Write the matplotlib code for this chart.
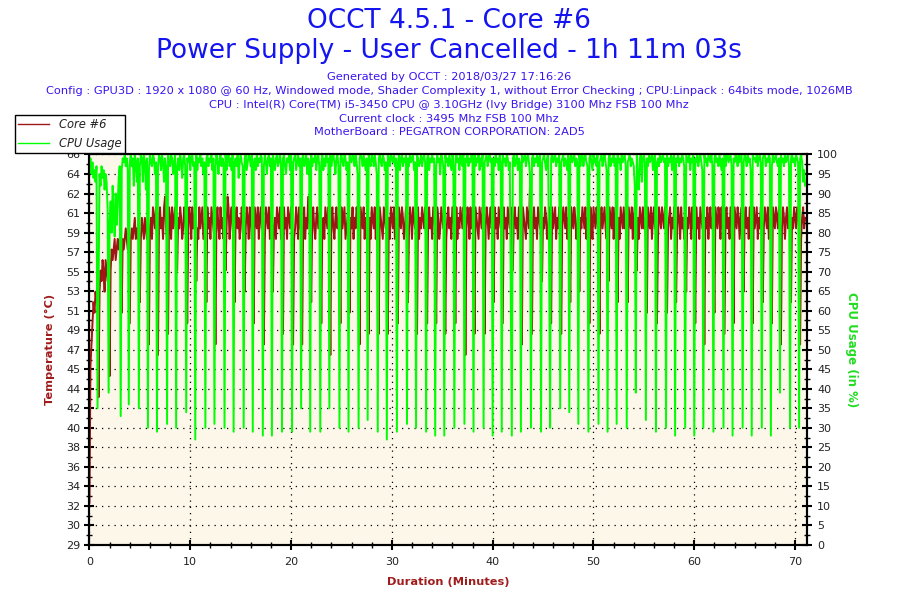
# OCCT power supply test - Core #6 temperature and CPU usage
import numpy as np
import matplotlib
matplotlib.use("Agg")
import matplotlib.pyplot as plt
from matplotlib.lines import Line2D

# one sample every 0.1 minute (one row per minute)
sample_step = 0.1

core6_temp = [
    33, 46, 48, 50, 52, 51, 53, 52, 54, 43,
    53, 55, 54, 56, 55, 53, 56, 55, 54, 57,
    45, 55, 57, 56, 57, 58, 56, 57, 58, 57,
    58, 57, 51, 58, 57, 58, 59, 58, 57, 58,
    50, 58, 59, 58, 59, 60, 58, 59, 58, 60,
    52, 58, 60, 59, 58, 60, 59, 58, 60, 48,
    59, 60, 58, 61, 60, 59, 61, 58, 47, 60,
    61, 59, 60, 58, 61, 62, 59, 58, 49, 61,
    60, 58, 61, 59, 60, 61, 58, 55, 60, 59,
    61, 60, 58, 59, 61, 60, 58, 50, 59, 61,
    60, 58, 61, 59, 60, 61, 54, 59, 58, 61,
    59, 60, 61, 58, 59, 60, 52, 61, 59, 60,
    58, 61, 60, 59, 58, 48, 60, 61, 59, 58,
    61, 59, 60, 58, 61, 55, 59, 62, 61, 58,
    60, 61, 59, 58, 52, 60, 61, 59, 60, 58,
    59, 61, 60, 58, 53, 59, 61, 60, 58, 61,
    60, 58, 59, 50, 61, 60, 59, 61, 58, 60,
    61, 59, 60, 48, 58, 61, 60, 59, 61, 58,
    60, 61, 53, 59, 60, 58, 61, 60, 59, 61,
    58, 60, 49, 61, 59, 60, 58, 61, 60, 59,
    61, 60, 48, 58, 59, 61, 60, 58, 61, 59,
    60, 48, 59, 61, 58, 60, 59, 62, 60, 58,
    52, 60, 61, 59, 58, 60, 61, 59, 60, 61,
    50, 59, 60, 58, 61, 60, 59, 61, 58, 47,
    60, 61, 59, 58, 60, 61, 59, 60, 58, 50,
    61, 59, 60, 61, 58, 59, 60, 61, 51, 60,
    59, 61, 58, 60, 59, 61, 60, 58, 48, 61,
    60, 59, 61, 58, 60, 59, 61, 49, 60, 58,
    61, 60, 59, 61, 58, 60, 59, 49, 61, 60,
    59, 58, 61, 60, 59, 61, 49, 60, 58, 61,
    60, 59, 61, 58, 60, 59, 50, 61, 60, 59,
    61, 60, 58, 59, 61, 60, 52, 59, 61, 60,
    58, 61, 60, 59, 60, 49, 61, 58, 60, 59,
    61, 60, 59, 61, 58, 50, 60, 61, 59, 60,
    58, 61, 60, 59, 50, 61, 60, 58, 59, 61,
    60, 59, 61, 49, 58, 60, 61, 59, 60, 58,
    61, 60, 59, 50, 61, 58, 60, 59, 61, 60,
    59, 61, 60, 47, 59, 61, 60, 58, 61, 59,
    60, 58, 49, 61, 60, 59, 58, 61, 60, 59,
    61, 60, 49, 59, 61, 60, 58, 60, 61, 59,
    60, 52, 61, 59, 60, 58, 61, 60, 59, 61,
    50, 61, 59, 60, 58, 61, 60, 59, 61, 58,
    55, 60, 61, 59, 60, 58, 61, 60, 59, 48,
    61, 60, 59, 58, 61, 60, 59, 63, 60, 49,
    60, 61, 59, 60, 58, 61, 60, 59, 61, 54,
    60, 59, 61, 60, 58, 59, 61, 60, 50, 61,
    59, 60, 61, 58, 60, 59, 61, 60, 49, 59,
    61, 60, 59, 61, 58, 60, 59, 52, 61, 60,
    59, 61, 60, 58, 59, 61, 53, 60, 59, 61,
    60, 59, 61, 58, 60, 59, 50, 61, 60, 58,
    61, 60, 59, 61, 60, 58, 49, 60, 61, 59,
    60, 61, 59, 58, 60, 54, 61, 60, 59, 61,
    58, 60, 61, 59, 52, 60, 58, 61, 60, 59,
    61, 59, 60, 58, 52, 61, 60, 59, 61, 58,
    60, 61, 59, 55, 60, 58, 61, 60, 59, 61,
    59, 60, 58, 51, 61, 60, 59, 61, 58, 60,
    61, 59, 60, 50, 58, 61, 60, 59, 61, 60,
    59, 61, 60, 51, 59, 60, 61, 58, 60, 59,
    61, 60, 52, 59, 61, 60, 58, 61, 59, 60,
    58, 61, 53, 60, 59, 61, 60, 58, 61, 59,
    60, 50, 61, 59, 60, 58, 61, 60, 59, 61,
    48, 60, 59, 61, 58, 60, 61, 59, 60, 58,
    51, 61, 60, 59, 61, 60, 58, 61, 59, 60,
    49, 60, 61, 59, 60, 58, 61, 60, 59, 50,
    61, 60, 59, 61, 60, 58, 60, 61, 59, 53,
    60, 61, 59, 60, 58, 61, 60, 59, 50, 61,
    59, 60, 61, 58, 60, 59, 61, 60, 52, 59,
    61, 60, 59, 61, 58, 60, 59, 50, 61, 60,
    59, 61, 60, 59, 61, 60, 48, 59, 61, 60,
    58, 60, 61, 59, 60, 61, 52, 60, 59, 61,
    60, 59, 61, 60, 59, 48, 58, 60, 61, 59,
    60,
]

cpu_usage = [
    97, 99, 95, 98, 94, 96, 93, 97, 35, 64,
    95, 92, 97, 94, 96, 91, 95, 93, 86, 39,
    83, 88, 80, 92, 85, 79, 90, 82, 87, 94,
    97, 33, 96, 99, 98, 100, 97, 99, 96, 36,
    98, 100, 97, 99, 92, 100, 98, 93, 99, 35,
    97, 100, 99, 93, 100, 98, 91, 99, 30, 96,
    100, 98, 97, 100, 99, 95, 98, 29, 97, 100,
    99, 96, 100, 98, 93, 99, 97, 31, 100, 98,
    97, 100, 99, 95, 98, 100, 30, 97, 99, 96,
    100, 98, 94, 99, 100, 97, 34, 99, 98, 100,
    96, 99, 100, 97, 98, 27, 100, 96, 99, 98,
    100, 97, 99, 95, 98, 30, 99, 100, 97, 99,
    98, 100, 96, 99, 31, 97, 100, 98, 95, 99,
    100, 97, 99, 98, 30, 100, 96, 99, 100, 97,
    99, 96, 100, 29, 98, 99, 97, 100, 94, 98,
    100, 98, 97, 30, 99, 100, 96, 98, 100, 99,
    97, 100, 29, 98, 99, 96, 100, 97, 99, 98,
    100, 99, 28, 97, 100, 98, 95, 99, 100, 97,
    99, 28, 100, 98, 96, 99, 100, 97, 98, 100,
    98, 29, 99, 100, 97, 95, 99, 98, 100, 96,
    100, 29, 98, 99, 100, 96, 98, 100, 97, 99,
    35, 99, 100, 97, 98, 100, 95, 99, 98, 29,
    100, 97, 99, 98, 100, 96, 99, 100, 97, 29,
    98, 100, 96, 99, 97, 100, 98, 99, 35, 100,
    97, 99, 100, 98, 95, 99, 100, 97, 30, 99,
    100, 98, 97, 100, 99, 96, 98, 29, 100, 99,
    98, 100, 99, 97, 100, 98, 95, 30, 99, 100,
    99, 97, 100, 98, 96, 99, 32, 100, 98, 97,
    100, 99, 97, 100, 98, 95, 29, 99, 100, 98,
    97, 100, 99, 96, 98, 27, 100, 99, 97, 100,
    99, 98, 100, 97, 99, 29, 98, 100, 96, 99,
    100, 97, 99, 98, 100, 31, 99, 97, 100, 98,
    99, 100, 96, 98, 30, 100, 99, 97, 98, 100,
    97, 99, 100, 98, 29, 99, 100, 96, 99, 98,
    100, 98, 99, 28, 97, 100, 98, 99, 95, 100,
    99, 97, 28, 100, 98, 99, 97, 100, 98, 96,
    100, 99, 30, 97, 100, 98, 99, 96, 100, 98,
    97, 100, 31, 99, 98, 100, 97, 99, 98, 100,
    99, 29, 100, 97, 99, 98, 100, 96, 99, 97,
    100, 30, 98, 99, 100, 97, 99, 100, 98, 99,
    28, 99, 97, 100, 98, 99, 96, 100, 98, 29,
    100, 98, 99, 97, 100, 99, 96, 98, 61, 28,
    99, 100, 97, 98, 100, 96, 99, 98, 29, 100,
    98, 99, 100, 97, 99, 100, 98, 95, 30, 99,
    100, 97, 99, 98, 100, 97, 99, 100, 29, 98,
    99, 100, 98, 96, 99, 100, 73, 30, 99, 100,
    98, 99, 100, 97, 99, 98, 100, 35, 98, 99,
    100, 97, 99, 98, 96, 100, 34, 99, 100, 98,
    99, 100, 97, 99, 98, 31, 100, 97, 99, 100,
    97, 99, 100, 98, 97, 29, 99, 100, 98, 96,
    100, 98, 99, 97, 100, 31, 98, 99, 100, 97,
    99, 100, 98, 96, 29, 99, 100, 97, 99, 98,
    100, 97, 99, 31, 100, 98, 99, 96, 100, 98,
    99, 100, 97, 30, 98, 99, 100, 97, 99, 98,
    97, 92, 39, 100, 94, 91, 99, 100, 93, 99,
    100, 98, 32, 99, 97, 100, 98, 99, 100, 96,
    99, 100, 29, 98, 99, 97, 100, 98, 99, 100,
    98, 99, 30, 100, 97, 99, 98, 100, 96, 99,
    100, 28, 99, 98, 100, 97, 99, 98, 100, 99,
    97, 30, 100, 99, 98, 100, 96, 99, 98, 100,
    28, 99, 98, 100, 97, 99, 100, 98, 96, 30,
    100, 98, 99, 97, 100, 99, 98, 100, 97, 29,
    99, 100, 98, 99, 97, 100, 98, 96, 99, 30,
    100, 97, 99, 100, 98, 99, 100, 97, 28, 99,
    98, 100, 99, 97, 100, 98, 99, 100, 30, 98,
    100, 99, 97, 100, 98, 99, 96, 28, 100, 99,
    99, 98, 100, 97, 99, 100, 98, 30, 99, 100,
    100, 97, 99, 98, 100, 99, 28, 97, 100, 98,
    99, 100, 98, 97, 99, 39, 100, 98, 99, 97,
    100, 98, 99, 100, 97, 30, 99, 100, 98, 99,
    97, 100, 99, 98, 30, 99, 100, 98, 93, 96,
    92,
]

temp_min, temp_max = 29, 66
temp_tick_labels = ["29", "30", "32", "34", "36", "38", "40", "42", "44", "45",
                    "47", "49", "51", "53", "55", "57", "59", "61", "62", "64", "66"]
duration_max = 71.16

time_min = np.arange(len(cpu_usage)) * sample_step

red = "#9e1616"
green = "#00ff00"
label_red = "#a01c1c"
label_green = "#22dd22"
tick_col = "#222222"

fig = plt.figure(figsize=(9, 6), dpi=100)
ax = fig.add_axes([0.0994, 0.0917, 0.797, 0.6508])
ax.set_facecolor("#fdf7ea")
ax2 = ax.twinx()

ax.plot(time_min, core6_temp, color=red, lw=1.4)
ax2.plot(time_min, cpu_usage, color=green, lw=1.4)

ax.set_xlim(0, duration_max)
ax.set_ylim(temp_min, temp_max)
ax2.set_ylim(0, 100)

major_y = np.linspace(temp_min, temp_max, len(temp_tick_labels))
ax.set_yticks(major_y)
ax.set_yticklabels(temp_tick_labels)
ax.set_yticks((major_y[:-1] + major_y[1:]) / 2, minor=True)
ax.set_xticks(np.arange(0, 71, 10))
ax.set_xticks(np.arange(0, 72, 2), minor=True)
ax2.set_yticks(np.arange(0, 101, 5))
ax2.set_yticks(np.arange(2.5, 100, 5), minor=True)

for a in (ax, ax2):
    a.tick_params(which="major", direction="inout", length=7, width=1.5,
                  colors="black", labelcolor=tick_col, labelsize=8)
    a.tick_params(which="minor", direction="inout", length=4, width=1.0, colors="black")
    for s in a.spines.values():
        s.set_linewidth(1.5)
        s.set_color("black")
ax.tick_params(axis="y", pad=3)
ax2.tick_params(axis="y", pad=4)
ax.tick_params(axis="x", pad=5)

ax.grid(True, which="major", color="black", linestyle=(0, (1, 4)), linewidth=0.9)

ax.set_xlabel("Duration (Minutes)", color=label_red, fontweight="bold", fontsize=8.2, labelpad=7)
ax.set_ylabel("Temperature (°C)", color=label_red, fontweight="bold", fontsize=8.2, labelpad=8)
ax2.set_ylabel("CPU Usage (in %)", color=label_green, fontweight="bold", fontsize=8.5,
               rotation=270, labelpad=14)

title_col = "#1414f0"
sub_col = "#3a14f0"
fig.text(0.499, 1 - 21.5 / 600, "OCCT 4.5.1 - Core #6", ha="center", va="center",
         fontsize=19, color=title_col)
fig.text(0.499, 1 - 51.5 / 600, "Power Supply - User Cancelled - 1h 11m 03s", ha="center",
         va="center", fontsize=19, color=title_col)
sub_lines = [
    "Generated by OCCT : 2018/03/27 17:16:26",
    "Config : GPU3D : 1920 x 1080 @ 60 Hz, Windowed mode, Shader Complexity 1, "
    "without Error Checking ; CPU:Linpack : 64bits mode, 1026MB",
    "CPU : Intel(R) Core(TM) i5-3450 CPU @ 3.10GHz (Ivy Bridge) 3100 Mhz FSB 100 Mhz",
    "Current clock : 3495 Mhz FSB 100 Mhz",
    "MotherBoard : PEGATRON CORPORATION: 2AD5",
]
sub_y = [77, 90.7, 105, 119, 132]
for txt, yy in zip(sub_lines, sub_y):
    fig.text(0.499, 1 - yy / 600, txt, ha="center", va="center", fontsize=8.2, color=sub_col)

handles = [Line2D([], [], color=red, lw=1.0), Line2D([], [], color=green, lw=1.0)]
leg = fig.legend(handles, ["Core #6", "CPU Usage"], loc="upper left",
                 bbox_to_anchor=(15 / 900, 1 - 115 / 600), frameon=True, fancybox=False,
                 edgecolor="black", framealpha=1, borderpad=0.25, labelspacing=0.55,
                 handlelength=2.7, handletextpad=0.9, borderaxespad=0,
                 prop={"style": "italic", "size": 8.3})
leg.get_frame().set_linewidth(1.0)
for t in leg.get_texts():
    t.set_color(tick_col)

fig.savefig("out.png", dpi=100)
